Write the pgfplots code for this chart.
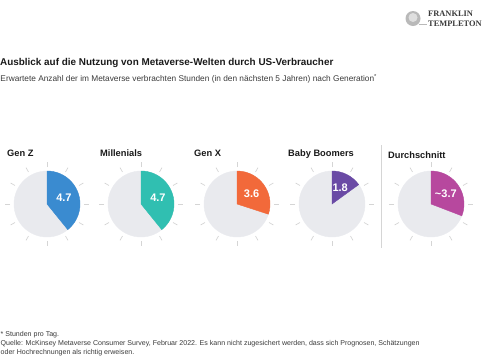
\documentclass[border=0pt]{standalone}
\usepackage{pgfplots}
\usepackage{pgfplotstable}
\pgfplotsset{compat=1.18}
\usepackage{fontspec}
\setmainfont{Liberation Sans}
\newfontfamily\logofont{Liberation Serif}
\definecolor{cgz}{HTML}{3A8BD0}
\definecolor{cmi}{HTML}{30BFB1}
\definecolor{cgx}{HTML}{F2693A}
\definecolor{cbb}{HTML}{6A4AA5}
\definecolor{cds}{HTML}{B7489E}
\definecolor{piegray}{HTML}{E9EAEE}
\definecolor{tickgray}{HTML}{D5D5D5}
\definecolor{txt}{HTML}{1A1A1A}
\definecolor{subtxt}{HTML}{3A3A3A}
\pgfplotstableread{
x y h c approx
47 204 4.7 0 0
141 204 4.7 1 0
237 204 3.6 2 0
332 204 1.8 3 0
431 204 3.7 4 1
}\piedata
\begin{document}
\begin{tikzpicture}
\begin{axis}[
  name=ax,
  width=485bp, height=360bp, scale only axis,
  xmin=0, xmax=485, ymin=0, ymax=360, y dir=reverse,
  hide axis, clip=false,
]
% separator
\draw[tickgray, line width=0.6bp] (axis cs:381,145) -- (axis cs:381,248);
\addplot[
  scatter, only marks, mark=*, mark size=0.5bp,
  point meta=\thisrow{h},
  visualization depends on={\thisrow{h} \as \hrs},
  visualization depends on={\thisrow{c} \as \cidx},
  visualization depends on={\thisrow{approx} \as \apx},
  scatter/@pre marker code/.code={%
    \pgfscope
    \begin{scope}
      \pgfmathtruncatemacro{\ci}{\cidx}%
      \pgfmathtruncatemacro{\ap}{\apx}%
      \ifcase\ci \colorlet{pc}{cgz}\or \colorlet{pc}{cmi}\or \colorlet{pc}{cgx}\or \colorlet{pc}{cbb}\else \colorlet{pc}{cds}\fi
      \fill[piegray] (0,0) circle[radius=33bp];
      \foreach \a in {0,30,...,330} {\draw[tickgray, line width=0.7bp] (\a:37bp) -- (\a:42bp);}
      \fill[pc] (0,0) -- (90:33bp) arc[start angle=90, end angle={90-\hrs*30}, radius=33bp] -- cycle;
      \node[text=white, font=\fontsize{11bp}{12bp}\selectfont\bfseries, inner sep=0pt] at ({90-\hrs*15}:18bp) {\ifnum\ap=1 \textasciitilde\fi\pgfmathprintnumber[fixed, precision=1, fixed zerofill, assume math mode=true]{\hrs}};
    \end{scope}
    \pgfsetfillopacity{0}\pgfsetstrokeopacity{0}%
  },
  scatter/@post marker code/.code={\endpgfscope},
] table[x=x, y=y] {\piedata};

% category labels
\begin{scope}[font=\fontsize{9.3bp}{11bp}\selectfont\bfseries, text=txt, inner sep=0pt]
\node[anchor=base west] at (axis cs:7,156.5) {Gen Z};
\node[anchor=base west] at (axis cs:100,156.5) {Millenials};
\node[anchor=base west] at (axis cs:194,156.5) {Gen X};
\node[anchor=base west] at (axis cs:288,156.5) {Baby Boomers};
\node[anchor=base west] at (axis cs:388,158) {Durchschnitt};
\end{scope}

% title and subtitle
\node[anchor=base west, inner sep=0pt, text=txt, font=\fontsize{9.9bp}{12bp}\selectfont\bfseries] at (axis cs:0,65.5) {Ausblick auf die Nutzung von Metaverse-Welten durch US-Verbraucher};
\node[anchor=base west, inner sep=0pt, text=subtxt, font=\fontsize{8.3bp}{9bp}\selectfont] at (axis cs:0.3,81) {Erwartete Anzahl der im Metaverse verbrachten Stunden (in den nächsten 5 Jahren) nach Generation\textsuperscript{*}};

% footnotes
\begin{scope}[font=\fontsize{7.05bp}{8.5bp}\selectfont, text=subtxt, inner sep=0pt]
\node[anchor=base west] at (axis cs:0.5,336) {* Stunden pro Tag.};
\node[anchor=base west] at (axis cs:0.5,345) {Quelle: McKinsey Metaverse Consumer Survey, Februar 2022. Es kann nicht zugesichert werden, dass sich Prognosen, Schätzungen};
\node[anchor=base west] at (axis cs:0.5,354) {oder Hochrechnungen als richtig erweisen.};
\end{scope}

% logo
\fill[gray!55] (axis cs:413,18.5) circle[radius=7.5bp];
\fill[gray!25] (axis cs:413,17.5) circle[radius=4.5bp];
\draw[gray!55, line width=1bp] (axis cs:419,24.5) -- (axis cs:427,24.5);
\node[anchor=base west, inner sep=0pt, text=subtxt, font=\logofont\fontsize{8.4bp}{9bp}\selectfont\bfseries] at (axis cs:428,16.7) {FRANKLIN};
\node[anchor=base west, inner sep=0pt, text=subtxt, font=\logofont\fontsize{8.4bp}{9bp}\selectfont\bfseries] at (axis cs:428,26) {TEMPLETON};
\end{axis}
\pgfresetboundingbox
\path[use as bounding box] (ax.south west) rectangle (ax.north east);
\end{tikzpicture}
\end{document}
